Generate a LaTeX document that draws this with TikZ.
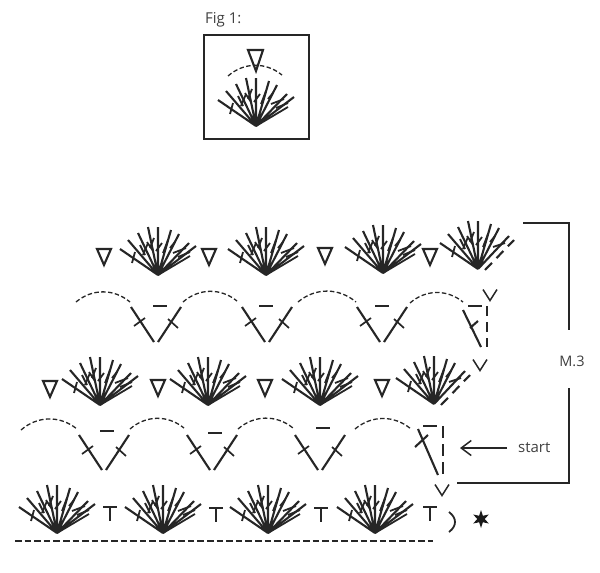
\documentclass[tikz,border=0pt]{standalone}
\usepackage{fontspec}
\setmainfont{Open Sans}
\usetikzlibrary{arrows.meta, positioning, shapes.geometric}

\tikzset{
	stitch/.style={line width=2.1pt, draw=black!85},
	thinline/.style={line width=1.5pt, draw=black!85},
	chain/.style={line width=1.3pt, draw=black!85, dash pattern=on 4.5pt off 2.4pt},
	label/.style={inner sep=0pt, font=\fontsize{15}{17}\selectfont, text=black!75},
	fan/.pic={
		\draw[stitch] (0,0) -- (-38,-26) (0,0) -- (-30,-35) (0,0) -- (-20,-42) (0,0) -- (-10,-48)
			(0,0) -- (0,-48) (0,0) -- (13,-45) (0,0) -- (21,-41) (0,0) -- (31,-32) (0,0) -- (38,-29);
		\draw[stitch, line width=1.8pt] (0,0) -- (32,-19)
			(-26,-12) -- (-23,-23) (-18,-30) -- (-13,-20) (-15,-20) -- (-10,-32) (-8,-27) -- (-4,-37)
			(-11,-33) -- (-5,-24) (-2,-24) -- (4,-32)
			(5,-22) -- (10,-35) (12,-27) -- (17,-33) (15,-22) -- (28,-27) (20,-18) -- (32,-23);
	},
	halffan/.pic={
		\draw[stitch] (0,0) -- (-38,-26) (0,0) -- (-30,-35) (0,0) -- (-20,-42) (0,0) -- (-10,-48)
			(0,0) -- (0,-48) (0,0) -- (13,-45) (0,0) -- (21,-41) (0,0) -- (31,-33);
		\draw[stitch, line width=1.8pt] (-26,-12) -- (-23,-23) (-18,-30) -- (-13,-20) (-15,-20) -- (-10,-32)
			(-8,-27) -- (-4,-37) (-11,-33) -- (-5,-24) (-2,-24) -- (4,-32)
			(5,-22) -- (10,-35) (12,-27) -- (17,-33) (15,-22) -- (27,-26);
		\draw[stitch, dash pattern=on 10pt off 6.5pt] (7,1) -- (36,-29);
	},
	tri/.pic={
		\draw[stitch, line join=miter] (-7,-8) -- (7,-8) -- (0,8) -- cycle;
	},
	vee/.pic={
		\draw[stitch] (-25,-35) -- (-2,0) (2,0) -- (25,-35);
		\draw[stitch, line width=1.7pt] (-22,-16) -- (-11,-24) (12,-23) -- (22,-14);
	},
	bar/.pic={
		\draw[stitch] (-7,0) -- (7,0);
	},
	smallv/.pic={
		\draw[thinline] (-7,-5.5) -- (0,5.5) -- (7,-5.5);
	},
	tee/.pic={
		\draw[thinline, line width=1.8pt] (-7,-7) -- (7,-7) (0,-7) -- (0,7);
	}
}

\begin{document}
\begin{tikzpicture}[x=1pt, y=-1pt]
	\useasboundingbox (0,0) rectangle (600,573);

	% figure box
	\node[label, anchor=west] (figlabel) at (205,20) {Fig 1:};
	\draw[line width=1.9pt, draw=black!85] (204,35) rectangle (309,139);
	\draw[stitch, line join=miter] (248,50) -- (263,50) -- (256,71) -- cycle;
	\draw[chain] (228,76) to[bend left=40] (282,75);
	\pic (figfan) at (256,126) {fan};

	% first row
	\pic (topa) at (104,257) {tri};
	\pic (fana) at (158,275) {fan};
	\pic (topb) at (209,257) {tri};
	\pic (fanb) at (266,275) {fan};
	\pic (topc) at (325,256) {tri};
	\pic (fanc) at (383,273) {fan};
	\pic (topd) at (430,257) {tri};
	\pic (fand) at (478,269) {halffan};

	% second row
	\draw[chain] (76,302) to[bend left=40] (130,302);
	\pic (vea) at (156,342) {vee};
	\pic (dsa) at (160,306) {bar};
	\draw[chain] (183,302) to[bend left=40] (237,301);
	\pic (veb) at (267,342) {vee};
	\pic (dsb) at (266,306) {bar};
	\draw[chain] (298,302) to[bend left=40] (356,302);
	\pic (vec) at (382,342) {vee};
	\pic (dsc) at (382,306) {bar};
	\draw[chain] (410,303) to[bend left=40] (463,302);
	\pic (dsd) at (475,306) {bar};
	\draw[stitch] (463,310) -- (481,347) (470,328) -- (478,321);
	\draw[stitch, dash pattern=on 10pt off 6pt] (487,306) -- (487,347);
	\pic (vtop) at (490,295) {smallv};

	% third row
	\pic (vmid) at (480,365) {smallv};
	\pic (tria) at (50,389) {tri};
	\pic (fane) at (100,405) {fan};
	\pic (trib) at (158,388) {tri};
	\pic (fanf) at (208,405) {fan};
	\pic (tric) at (265,388) {tri};
	\pic (fang) at (320,405) {fan};
	\pic (trid) at (382,388) {tri};
	\pic (fanh) at (434,404) {halffan};

	% fourth row
	\draw[chain] (21,430) to[bend left=40] (77,429);
	\pic (ved) at (104,470) {vee};
	\pic (dse) at (107,431) {bar};
	\draw[chain] (130,429) to[bend left=40] (184,428);
	\pic (vee) at (212,470) {vee};
	\pic (dsf) at (215,433) {bar};
	\draw[chain] (238,429) to[bend left=40] (293,428);
	\pic (vef) at (320,470) {vee};
	\pic (dsg) at (323,428) {bar};
	\draw[chain] (355,429) to[bend left=40] (411,429);
	\pic (dsh) at (430,426) {bar};
	\draw[stitch] (418,429) -- (438,475) (415,447) -- (428,435);
	\draw[stitch, dash pattern=on 12pt off 6pt] (443,426) -- (443,475);
	\pic (vlow) at (442,490) {smallv};

	% last row
	\pic (fani) at (57,533) {fan};
	\pic (teea) at (110,514) {tee};
	\pic (fanj) at (163,533) {fan};
	\pic (teeb) at (216,515) {tee};
	\pic (fank) at (268,533) {fan};
	\pic (teec) at (321,515) {tee};
	\pic (fanl) at (375,533) {fan};
	\pic (teed) at (430,514) {tee};
	\draw[thinline, line width=1.8pt] (449,512) .. controls (457,518) and (457,526) .. (449,532);
	\node[star, star points=6, star point ratio=2.4, fill=black!90, inner sep=0pt, minimum size=18pt] (mark) at (481,519) {};
	\draw[chain, line width=1.4pt, dash pattern=on 6.5pt off 3.1pt] (15,541) -- (433,541);

	% bracket and start
	\node[label, font=\fontsize{14.5}{17}\selectfont] (rep) at (572,361) {M.3};
	\coordinate (repa) at (523,223);
	\coordinate (repb) at (569,330);
	\coordinate (repc) at (569,388);
	\coordinate (repd) at (457,483);
	\draw[thinline] (repa) -| (repb);
	\draw[thinline] (repc) |- (repd);
	\node[label, anchor=west] (startlabel) at (518,448) {start};
	\coordinate (starttip) at (460,448);
	\draw[thinline, -{Straight Barb[length=10pt, width=15pt]}] (507,448) -- (starttip);
\end{tikzpicture}
\end{document}
